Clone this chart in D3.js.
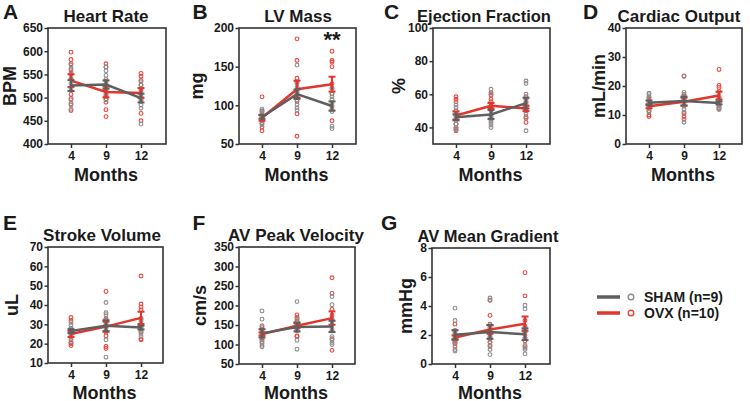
<!DOCTYPE html>
<html><head><meta charset="utf-8">
<script src="https://cdn.jsdelivr.net/npm/d3@7"></script>
<style>
body{margin:0;background:#fff;}
text{font-family:"Liberation Sans",Arial,sans-serif;font-weight:bold;fill:#1a1a1a;}
</style></head>
<body>
<script>
// ---------- DATA ----------
const months = ["4", "9", "12"];
const panelLetters = ["A", "B", "C", "D", "E", "F", "G"];
const titles = ["Heart Rate", "LV Mass", "Ejection Fraction", "Cardiac Output", "Stroke Volume", "AV Peak Velocity", "AV Mean Gradient"];
const units = ["BPM", "mg", "%", "mL/min", "uL", "cm/s", "mmHg"];
const yDomains = [[400, 650], [50, 200], [30, 100], [0, 40], [10, 70], [50, 350], [0, 8]];
const yTicks = [[400, 450, 500, 550, 600, 650], [50, 100, 150, 200], [40, 60, 80, 100], [0, 10, 20, 30, 40], [10, 20, 30, 40, 50, 60, 70], [50, 100, 150, 200, 250, 300, 350], [0, 2, 4, 6, 8]];
const groups = ["SHAM (n=9)", "OVX (n=10)"];

const hrSham = [[570,563,555,541,530,520,495,484,475],[566,558,548,539,530,516,505,497,495],[534,527,520,509,502,495,484,477,443]];
const hrOvx  = [[598,582,573,560,550,540,507,498,487,472],[573,566,535,518,508,503,497,490,474,459],[552,546,537,527,516,509,502,495,466,450]];
const lvSham = [[95,93,90,87,85,83,80,77,75],[152,128,123,117,111,107,101,97,94],[122,115,111,108,103,98,92,73,70]];
const lvOvx  = [[111,92,88,86,84,82,80,77,72,67],[186,158,135,130,120,115,110,105,89,60],[170,158,156,150,128,122,115,100,95,80]];
const efSham = [[53.5,52,50,48.5,46.5,44,42,40,38.5],[63,60,48,46,45,44,43,41.5,40],[68,66.5,60,57,55.5,53,48.5,45.5,38]];
const efOvx  = [[58.5,57,55.5,50,47,45,42,40,39,38],[61,59.5,57,55.5,53,52,51,50,47,45],[58.5,57,55,54,53,52,50,46.5,45.5,43]];
const coSham = [[17.5,17,16.2,15,14,13,12.5,11.5,11],[23.3,17.8,17,16,15.5,13,12,11,7.5],[16.5,16,15.2,14.5,14.2,13.5,13,12.5,12]];
const coOvx  = [[16,15.5,14.5,14,13.5,13,12.5,11.5,10,9.5],[23.5,17,16.5,16,15.5,15,14,10.5,9.5,8.5],[25.7,20.2,19.5,18,16,15,14.5,13.5,12.5,12]];
const svSham = [[31,29.5,28,27.5,27,26,25,23.5,21],[41.3,36,35,32.5,29.5,28,26.5,22,13],[32.5,31.5,30,29.8,28.5,27,26.4,25.2,24]];
const svOvx  = [[33.5,32,28,26,25,24,22,20.5,20,19],[47,33,32,31,30,29,26,24,18.5,17.5],[55,40.5,39,37.5,33,30,28,26,22.5,22]];
const pvSham = [[186,165,148,130,120,112,104,98,94],[210,167,158,150,147,140,135,111,88],[223,202,165,150,140,120,112,105,100]];
const pvOvx  = [[145,140,137,133,130,127,122,117,112,107],[176,170,165,160,150,145,140,135,122,120],[271,231,190,175,165,160,150,135,115,85]];
const mgSham = [[3.85,3.0,2.3,2.2,2.0,1.5,1.4,1.0,0.9],[4.55,4.4,2.7,2.1,1.8,1.5,1.2,1.0,0.65],[4.05,3.8,2.5,2.2,1.8,1.3,1.1,1.0,0.7]];
const mgOvx  = [[2.75,2.3,2.1,1.9,1.8,1.7,1.6,1.5,1.4,1.2],[4.4,3.35,2.75,2.5,2.3,2.1,1.9,1.7,1.5,1.3],[6.3,4.7,3.0,2.6,2.4,2.2,2.0,1.8,1.6,1.2]];

const shamSeries = [hrSham, lvSham, efSham, coSham, svSham, pvSham, mgSham];
const ovxSeries  = [hrOvx, lvOvx, efOvx, coOvx, svOvx, pvOvx, mgOvx];
const annotations = [{panel: 1, month: "12", value: 175, text: "**"}];

// ---------- LAYOUT ----------
const boxes = [
  {x0:48, x1:166, y0:28, y1:144}, {x0:239, x1:356, y0:28, y1:144},
  {x0:433, x1:550, y0:28, y1:144}, {x0:626, x1:742, y0:28, y1:144},
  {x0:48, x1:163, y0:247, y1:363}, {x0:239, x1:355, y0:247, y1:364},
  {x0:432, x1:550, y0:248, y1:364}
];
const titleX = [106, 298, 484, 679, 102, 296, 488];
const titleSize = [17, 17, 16.5, 17, 17, 17, 16.5];
const ylabX = [16, 203, 405, 605, 18, 206, 412];
const letterPos = [[3,19],[192.5,19],[384,19],[583,19],[3,229.5],[192.5,229.5],[381,229.5]];

const GRAY_LINE = "#5f5f5f", GRAY_PT = "#8d8d8d", RED_LINE = "#e2352c", RED_PT = "#e8463d", AX = "#333";

const svg = d3.select("body").append("svg").attr("width", 750).attr("height", 401);

function stats(arr) {
  const m = d3.mean(arr);
  const s = d3.deviation(arr) / Math.sqrt(arr.length);
  return {m, s};
}

boxes.forEach((b, i) => {
  const g = svg.append("g");
  const x = d3.scalePoint().domain(months).range([b.x0 + 23, b.x0 + 93]);
  const y = d3.scaleLinear().domain(yDomains[i]).range([b.y1, b.y0]);

  const ya = g.append("g").attr("transform", `translate(${b.x0},0)`)
    .call(d3.axisLeft(y).tickValues(yTicks[i]).tickSize(3.5).tickPadding(1.5).tickFormat(d3.format("d")));
  ya.select(".domain").remove();
  ya.selectAll("line").attr("stroke", AX).attr("stroke-width", 1.5);
  ya.selectAll("text").style("font-size", "12px").attr("fill", "#1a1a1a");
  const xa = g.append("g").attr("transform", `translate(0,${b.y1})`)
    .call(d3.axisBottom(x).tickSize(4).tickPadding(3.5));
  xa.select(".domain").remove();
  xa.selectAll("line").attr("stroke", AX).attr("stroke-width", 1.5);
  xa.selectAll("text").style("font-size", "12px").attr("fill", "#1a1a1a");

  g.append("rect").attr("x", b.x0).attr("y", b.y0).attr("width", b.x1 - b.x0).attr("height", b.y1 - b.y0)
    .attr("fill", "none").attr("stroke", AX).attr("stroke-width", 1.6);

  const series = [{data: ovxSeries[i], line: RED_LINE, pt: RED_PT}, {data: shamSeries[i], line: GRAY_LINE, pt: GRAY_PT}];
  series.forEach(sr => {
    sr.data.forEach((vals, j) => {
      g.selectAll(null).data(vals).enter().append("circle")
        .attr("cx", x(months[j])).attr("cy", d => y(d)).attr("r", 1.9)
        .attr("fill", "none").attr("stroke", sr.pt).attr("stroke-width", 1.1);
    });
  });
  series.forEach(sr => {
    const st = sr.data.map(stats);
    const line = d3.line().x((d, j) => x(months[j])).y(d => y(d.m));
    g.append("path").attr("d", line(st)).attr("fill", "none").attr("stroke", sr.line).attr("stroke-width", 2.5);
    st.forEach((d, j) => {
      const cx = x(months[j]);
      g.append("line").attr("x1", cx).attr("x2", cx).attr("y1", y(d.m - d.s)).attr("y2", y(d.m + d.s))
        .attr("stroke", sr.line).attr("stroke-width", 2);
      [d.m - d.s, d.m + d.s].forEach(v => {
        g.append("line").attr("x1", cx - 3.5).attr("x2", cx + 3.5).attr("y1", y(v)).attr("y2", y(v))
          .attr("stroke", sr.line).attr("stroke-width", 2);
      });
    });
  });

  g.append("text").attr("x", titleX[i]).attr("y", b.y0 - 6.5).attr("text-anchor", "middle")
    .style("font-size", titleSize[i] + "px").text(titles[i]);
  g.append("text").attr("transform", `translate(${ylabX[i]},${(b.y0 + b.y1) / 2}) rotate(-90)`)
    .attr("text-anchor", "middle").style("font-size", "18px").text(units[i]);
  g.append("text").attr("x", (b.x0 + b.x1) / 2 - 1).attr("y", Math.min(b.y1 + 37, 399)).attr("text-anchor", "middle")
    .style("font-size", "18px").text("Months");
  g.append("text").attr("x", letterPos[i][0]).attr("y", letterPos[i][1])
    .style("font-size", "21px").text(panelLetters[i]);

  annotations.filter(a => a.panel === i).forEach(a => {
    g.append("text").attr("x", x(a.month)).attr("y", y(a.value)).attr("text-anchor", "middle")
      .style("font-size", "22px").attr("fill", "#333").text(a.text);
  });
});

const legend = svg.append("g");
[{c: GRAY_LINE, p: GRAY_PT, y: 297}, {c: RED_LINE, p: RED_PT, y: 313}].forEach((d, k) => {
  legend.append("line").attr("x1", 597).attr("x2", 620).attr("y1", d.y).attr("y2", d.y)
    .attr("stroke", d.c).attr("stroke-width", 3.5);
  legend.append("circle").attr("cx", 631).attr("cy", d.y).attr("r", 2.8)
    .attr("fill", "none").attr("stroke", d.p).attr("stroke-width", 1.4);
  legend.append("text").attr("x", 644).attr("y", d.y + 5).style("font-size", "14px").text(groups[k]);
});
</script>
</body></html>
